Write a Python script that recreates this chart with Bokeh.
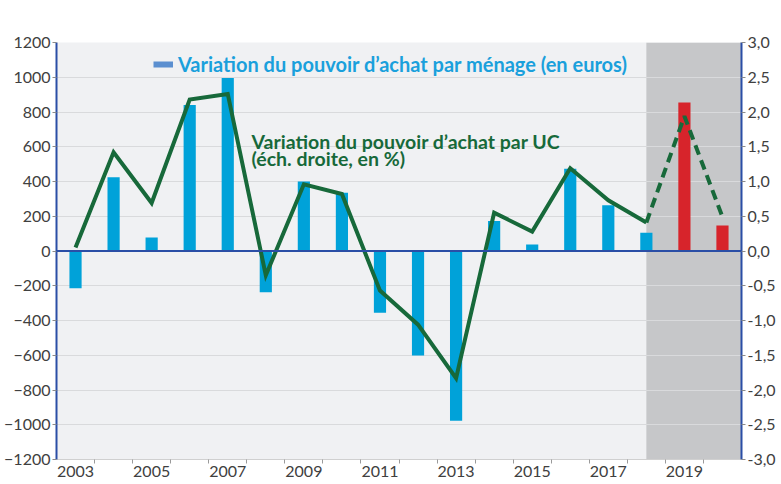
from bokeh.plotting import figure
from bokeh.models import (Range1d, LinearAxis, FixedTicker, Span, BoxAnnotation,
                          Label, Legend, LegendItem, ColumnDataSource)
from bokeh.embed import file_html
from bokeh.resources import INLINE

# ---- data ----
years = list(range(2003, 2021))
pouvoir_menage_euros = [-215, 425, 78, 841, 995, -237, 400, 335, -356, -601,
                        -977, 172, 37, 473, 264, 105, 855, 147]
pouvoir_uc_pct = [0.05, 1.42, 0.69, 2.18, 2.26, -0.35, 0.96, 0.82, -0.57, -1.06,
                  -1.83, 0.55, 0.28, 1.19, 0.73, 0.41, 1.94, 0.49]
last_observed_year = 2018
left_ticks = [-1200, -1000, -800, -600, -400, -200, 0, 200, 400, 600, 800, 1000, 1200]
right_ticks = [-3.0, -2.5, -2.0, -1.5, -1.0, -0.5, 0.0, 0.5, 1.0, 1.5, 2.0, 2.5, 3.0]
right_tick_labels = ["-3,0", "-2,5", "-2,0", "-1,5", "-1,0", "-0,5", "0,0",
                     "0,5", "1,0", "1,5", "2,0", "2,5", "3,0"]
x_label_years = [2003, 2005, 2007, 2009, 2011, 2013, 2015, 2017, 2019]

BLUE = "#00a2d9"
RED = "#d7242b"
GREEN = "#17693a"
AXIS_BLUE = "#2a4ea6"
TXT = "#404040"
FONT = "Lato"

bar_colors = [BLUE if y <= last_observed_year else RED for y in years]
src = ColumnDataSource(dict(year=years, menage=pouvoir_menage_euros, color=bar_colors))

obs_years = [y for y in years if y <= last_observed_year]
obs_uc = [v for y, v in zip(years, pouvoir_uc_pct) if y <= last_observed_year]
fc_years = [y for y in years if y >= last_observed_year]
fc_uc = [v for y, v in zip(years, pouvoir_uc_pct) if y >= last_observed_year]

p = figure(width=779, height=482,
           x_range=Range1d(years[0] - 0.5, years[-1] + 0.5),
           y_range=Range1d(left_ticks[0], left_ticks[-1]),
           output_backend="svg", toolbar_location=None,
           min_border_left=56, min_border_right=38, min_border_top=42, min_border_bottom=23,
           background_fill_color="#f0f1f3", border_fill_color="white",
           outline_line_color=None)
p.extra_y_ranges = {"pct": Range1d(right_ticks[0], right_ticks[-1])}

# grid
p.xgrid.visible = False
p.ygrid.ticker = FixedTicker(ticks=left_ticks)
p.ygrid.grid_line_color = "#d9dadc"
p.ygrid.grid_line_width = 1

# forecast shading
p.add_layout(BoxAnnotation(left=last_observed_year, fill_color="#c6c7c9", fill_alpha=1.0,
                           line_color=None, level="image"))

# bars
bars = p.vbar(x="year", top="menage", bottom=0, width=0.32, fill_color="color",
              line_color=None, source=src)

# zero line
p.add_layout(Span(location=0, dimension="width", line_color=AXIS_BLUE, line_width=2))

# lines
p.line(obs_years, obs_uc, y_range_name="pct", line_color=GREEN, line_width=4,
       line_join="miter")
p.line(fc_years, fc_uc, y_range_name="pct", line_color=GREEN, line_width=4,
       line_dash="10 6")

# axes
xa = p.xaxis[0]
xa.ticker = FixedTicker(ticks=x_label_years, minor_ticks=[y + 0.5 for y in years[:-1]])
xa.major_tick_line_color = None
xa.major_tick_out = 0
xa.major_tick_in = 0
xa.minor_tick_line_color = "#9a9a9a"
xa.minor_tick_out = 4
xa.minor_tick_in = 0
xa.axis_line_color = "#d0d0d0"
xa.major_label_standoff = 2
xa.major_label_text_font = FONT
xa.major_label_text_font_size = "16px"
xa.major_label_text_color = TXT

ya = p.yaxis[0]
ya.ticker = FixedTicker(ticks=left_ticks)
ya.axis_line_color = AXIS_BLUE
ya.axis_line_width = 2
ya.major_tick_line_color = "#8a8a8a"
ya.major_tick_out = 4
ya.major_tick_in = 0
ya.minor_tick_line_color = None
ya.major_label_standoff = 2
ya.major_label_text_font = FONT
ya.major_label_text_font_size = "16px"
ya.major_label_text_color = TXT

overrides = {}
for t, lab in zip(right_ticks, right_tick_labels):
    overrides[int(t) if float(t).is_integer() else t] = lab
ra = LinearAxis(y_range_name="pct", ticker=FixedTicker(ticks=right_ticks),
                major_label_overrides=overrides)
ra.axis_line_color = AXIS_BLUE
ra.axis_line_width = 2
ra.major_tick_line_color = "#8a8a8a"
ra.major_tick_out = 4
ra.major_tick_in = 0
ra.minor_tick_line_color = None
ra.major_label_standoff = 2
ra.major_label_text_font = FONT
ra.major_label_text_font_size = "16px"
ra.major_label_text_color = TXT
p.add_layout(ra, "right")

# legend (bars)
legend_swatch = p.line([float("nan")], [float("nan")], line_color="#5b8fd0", line_width=6)
legend = Legend(items=[LegendItem(label="Variation du pouvoir d\u2019achat par m\u00e9nage (en euros)",
                                  renderers=[legend_swatch])],
                location=(97, 383), padding=0, margin=0, border_line_color=None,
                background_fill_alpha=0, glyph_width=20, glyph_height=20, label_height=20,
                label_standoff=5, label_text_font=FONT, label_text_font_style="bold",
                label_text_font_size="20px", label_text_color="#1aa0dc")
p.add_layout(legend)

# texts
p.add_layout(Label(x=2007.625, y=630, text="Variation du pouvoir d\u2019achat par UC",
                   text_font=FONT, text_font_style="bold", text_font_size="19.5px",
                   text_color=GREEN, text_baseline="alphabetic"))
p.add_layout(Label(x=2007.625, y=532, text="(\u00e9ch. droite, en %)",
                   text_font=FONT, text_font_style="bold", text_font_size="19.5px",
                   text_color=GREEN, text_baseline="alphabetic"))
p.add_layout(Label(x=35, y=21, x_units="canvas", y_units="canvas", text="En euros de 2018",
                   text_font=FONT, text_font_style="bold", text_font_size="16px",
                   text_color="#111111", text_baseline="alphabetic"))
p.add_layout(Label(x=743, y=21, x_units="canvas", y_units="canvas", text="En %", text_align="right",
                   text_font=FONT, text_font_style="bold", text_font_size="16px",
                   text_color="#111111", text_baseline="alphabetic"))

open("out.html", "w").write(file_html(p, INLINE))
